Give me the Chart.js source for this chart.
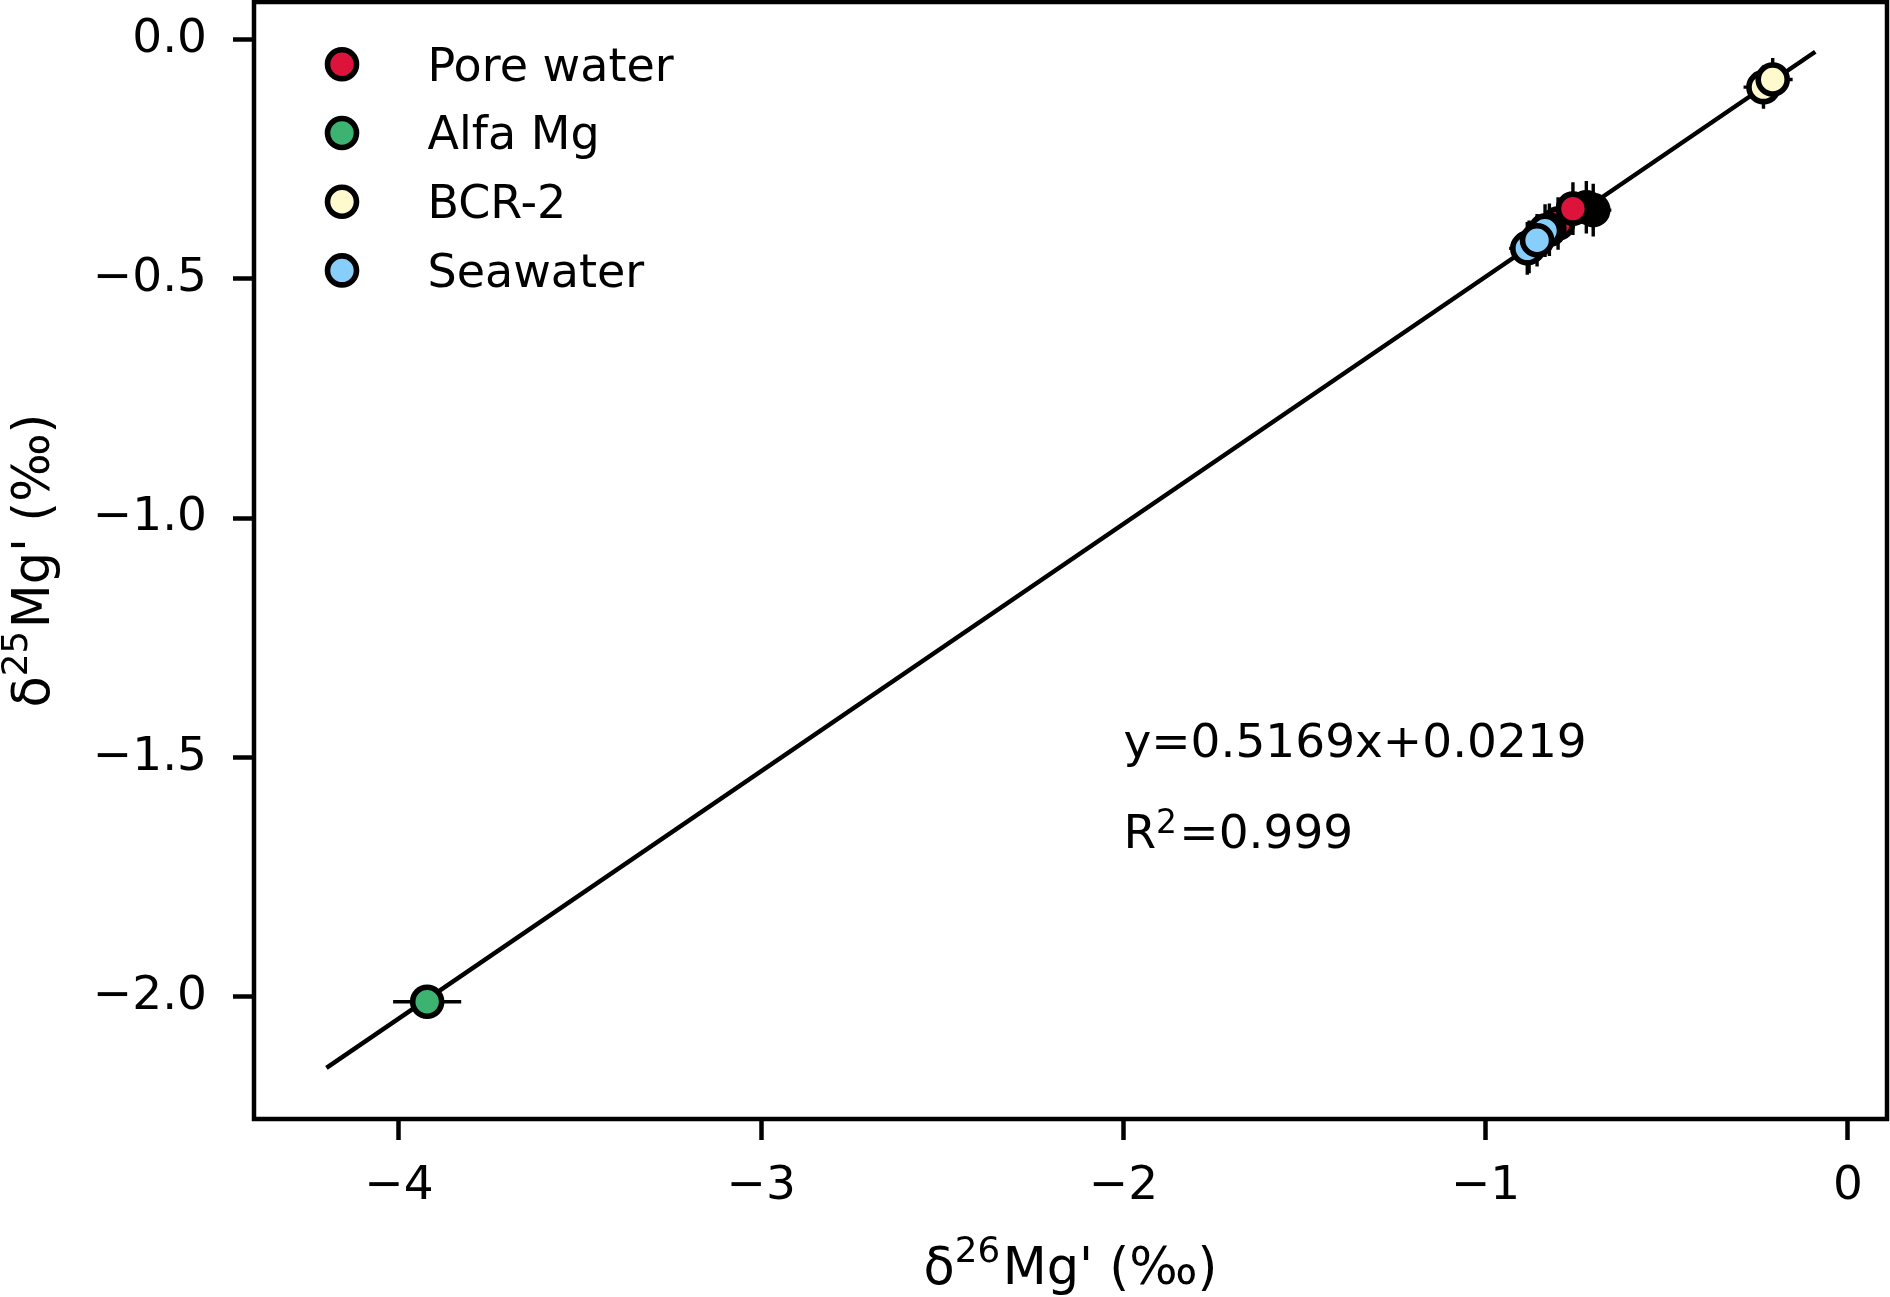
<!DOCTYPE html>
<html>
<head>
<meta charset="utf-8">
<script src="https://cdn.jsdelivr.net/npm/chart.js@4.4.0/dist/chart.umd.min.js"></script>
<style>
html,body{margin:0;padding:0;background:#fff;}
canvas{display:block;}
</style>
</head>
<body>
<canvas id="c" width="1890" height="1297" style="width:1890px;height:1297px"></canvas>
<script>
// ---- tick labels ----
const xTicks = [-4, -3, -2, -1, 0];
const xTickLabels = ['−4', '−3', '−2', '−1', '0'];
const yTicks = [-2.0, -1.5, -1.0, -0.5, 0.0];
const yTickLabels = ['−2.0', '−1.5', '−1.0', '−0.5', '0.0'];

// ---- series (δ26Mg', δ25Mg', errors) ----
const poreX = [-0.800, -0.759];
const poreY = [-0.384, -0.353];
const poreXErr = [0.05, 0.05];
const poreYErr = [0.055, 0.055];

const alfaX = [-3.922];
const alfaY = [-2.011];
const alfaXErr = [0.094];
const alfaYErr = [0.02];

const bcrX = [-0.233, -0.2075];
const bcrY = [-0.099, -0.083];
const bcrXErr = [0.055, 0.055];
const bcrYErr = [0.045, 0.045];

const seaX = [-0.885, -0.836, -0.858];
const seaY = [-0.436, -0.399, -0.419];
const seaXErr = [0.05, 0.05, 0.05];
const seaYErr = [0.055, 0.055, 0.055];

// overlapping replicate markers (drawn black, not in legend)
const repUnderX = [-0.722, -0.703];
const repUnderY = [-0.350, -0.356];
const repUnderXErr = [0.05, 0.05];
const repUnderYErr = [0.055, 0.055];
const repOverX = [-0.824, -0.880];
const repOverY = [-0.397, -0.433];
const repOverXErr = [0.05, 0.05];
const repOverYErr = [0.055, 0.055];

// regression line endpoints
const fitX = [-4.20, -0.09];
const fitY = [-2.149, -0.025];
const fitText = 'y=0.5169x+0.0219';
const r2Text = '0.999';

const xLabelParts = [{t:'δ'},{t:'26',sup:true},{t:"Mg' (‰)"}];
const yLabelParts = [{t:'δ'},{t:'25',sup:true},{t:"Mg' (‰)"}];

const FONT = '"DejaVu Sans"';
Chart.defaults.font.family = 'DejaVu Sans';
Chart.defaults.color = '#000';

const MR = 14.5, MB = 5.6;

function pts(xs, ys){ return xs.map((v,i)=>({x:v, y:ys[i]})); }

function markerDs(label, xs, ys, ex, ey, color, order, inLegend){
  return {
    type:'scatter', label, data: pts(xs, ys), errX: ex, errY: ey, inLegend,
    backgroundColor: color, borderColor:'#000', borderWidth:MB,
    pointRadius:MR, pointHoverRadius:MR, pointHoverBorderWidth:MB,
    order, clip:false
  };
}

function drawRich(ctx, parts, x, y, size, align, rise){
  let w = 0;
  parts.forEach(p => {
    ctx.font = (p.sup ? size*0.7 : size) + 'px ' + FONT;
    p.w = ctx.measureText(p.t).width + (p.sup ? size*0.05 : 0); w += p.w;
  });
  let cx = align === 'center' ? x - w/2 : x;
  ctx.textAlign = 'left'; ctx.textBaseline = 'alphabetic';
  parts.forEach(p => {
    ctx.font = (p.sup ? size*0.7 : size) + 'px ' + FONT;
    ctx.fillText(p.t, cx, p.sup ? y - rise*size : y);
    cx += p.w;
  });
}

function noPad(s){ s.paddingTop = 0; s.paddingBottom = 0; s.paddingLeft = 0; s.paddingRight = 0; }

const errorBars = {
  id:'errorBars',
  beforeDatasetsDraw(chart){
    const {ctx, scales:{x, y}} = chart;
    ctx.save();
    ctx.strokeStyle = '#000'; ctx.lineWidth = 3.4; ctx.lineCap = 'butt';
    chart.data.datasets.forEach(ds => {
      if (!ds.errX) return;
      ds.data.forEach((p, i) => {
        const px = x.getPixelForValue(p.x), py = y.getPixelForValue(p.y);
        ctx.beginPath();
        ctx.moveTo(x.getPixelForValue(p.x - ds.errX[i]), py);
        ctx.lineTo(x.getPixelForValue(p.x + ds.errX[i]), py);
        ctx.moveTo(px, y.getPixelForValue(p.y - ds.errY[i]));
        ctx.lineTo(px, y.getPixelForValue(p.y + ds.errY[i]));
        ctx.stroke();
      });
    });
    ctx.restore();
  }
};

const frameAndText = {
  id:'frameAndText',
  afterDatasetsDraw(chart){
    const {ctx, chartArea:a} = chart;
    ctx.save();
    ctx.strokeStyle = '#000'; ctx.lineWidth = 4.5;
    ctx.strokeRect(a.left, a.top, a.right - a.left, a.bottom - a.top);
    ctx.restore();
  },
  afterDraw(chart){
    const {ctx, chartArea:a, scales:{x, y}} = chart;
    ctx.save();
    ctx.fillStyle = '#000';
    // legend
    const items = chart.data.datasets.filter(d => d.inLegend);
    items.forEach((d, i) => {
      const cy = a.top + 62.3 + i*68.7;
      ctx.beginPath();
      ctx.arc(a.left + 88, cy, MR, 0, Math.PI*2);
      ctx.fillStyle = d.backgroundColor; ctx.fill();
      ctx.lineWidth = MB; ctx.strokeStyle = '#000'; ctx.stroke();
      ctx.fillStyle = '#000';
      ctx.font = '46px ' + FONT; ctx.textAlign = 'left'; ctx.textBaseline = 'alphabetic';
      ctx.fillText(d.label, a.left + 173.5, a.top + 78.5 + i*68.7);
    });
    // annotation
    const tx = x.getPixelForValue(-2.0);
    ctx.font = '47px ' + FONT; ctx.textAlign = 'left'; ctx.textBaseline = 'alphabetic';
    ctx.fillText(fitText, tx, y.getPixelForValue(-1.5));
    drawRich(ctx, [{t:'R'},{t:'2',sup:true},{t:'='+r2Text}], tx, y.getPixelForValue(-1.69), 47, 'left', 0.33);
    // axis labels
    drawRich(ctx, xLabelParts, (a.left + a.right)/2, 1284, 51, 'center', 0.43);
    ctx.save();
    ctx.translate(49, (a.top + a.bottom)/2);
    ctx.rotate(-Math.PI/2);
    drawRich(ctx, yLabelParts, 0, 0, 51, 'center', 0.43);
    ctx.restore();
    ctx.restore();
  }
};

new Chart(document.getElementById('c'), {
  type:'scatter',
  data:{
    datasets:[
      markerDs('Pore water', poreX, poreY, poreXErr, poreYErr, '#DC143C', 3, true),
      markerDs('Alfa Mg', alfaX, alfaY, alfaXErr, alfaYErr, '#3CB371', 6, true),
      markerDs('BCR-2', bcrX, bcrY, bcrXErr, bcrYErr, '#FFFACD', 5, true),
      markerDs('Seawater', seaX, seaY, seaXErr, seaYErr, '#87CEFA', 1, true),
      markerDs('Pore water replicates (a)', repUnderX, repUnderY, repUnderXErr, repUnderYErr, '#000000', 4, false),
      markerDs('Pore water replicates (b)', repOverX, repOverY, repOverXErr, repOverYErr, '#000000', 2, false),
      {
        type:'line', label:'Fit', data: pts(fitX, fitY),
        borderColor:'#000', borderWidth:4.5, pointRadius:0, fill:false, order:10, inLegend:false
      }
    ]
  },
  options:{
    responsive:false, animation:false, events:[],
    layout:{autoPadding:false, padding:{left:0, right:3, top:2, bottom:0}},
    plugins:{legend:{display:false}, tooltip:{enabled:false}},
    scales:{
      x:{
        type:'linear', min:-4.40, max:0.108,
        afterFit(s){ s.height = 178; noPad(s); },
        afterBuildTicks(s){ s.ticks = xTicks.map(v => ({value:v})); },
        grid:{display:true, drawOnChartArea:false, drawTicks:true, tickLength:21, tickWidth:4.5, tickColor:'#000'},
        border:{display:false},
        ticks:{font:{size:47}, color:'#000', padding:19, maxRotation:0,
          callback:(v, i) => xTickLabels[i]}
      },
      y:{
        type:'linear', min:-2.256, max:0.079,
        afterFit(s){ s.width = 254; noPad(s); },
        afterBuildTicks(s){ s.ticks = yTicks.map(v => ({value:v})); },
        grid:{display:true, drawOnChartArea:false, drawTicks:true, tickLength:21, tickWidth:4.5, tickColor:'#000'},
        border:{display:false},
        ticks:{font:{size:47}, color:'#000', padding:26,
          callback:(v, i) => yTickLabels[i]}
      }
    }
  },
  plugins:[errorBars, frameAndText]
});
</script>
</body>
</html>
